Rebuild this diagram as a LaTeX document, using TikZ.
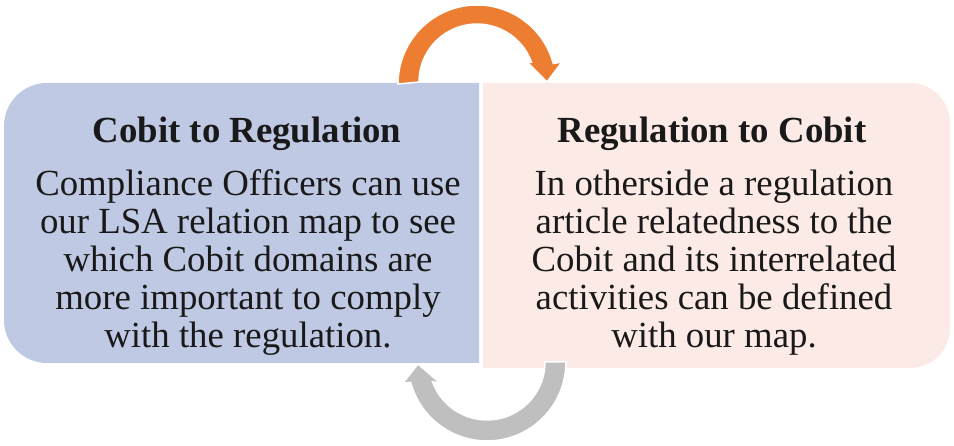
\documentclass[tikz,border=0pt]{standalone}
\usepackage{fontspec}
\setmainfont{Liberation Serif}
\definecolor{boxblue}{HTML}{BFC9E3}
\definecolor{boxpink}{HTML}{FCEAE6}
\definecolor{arroworange}{HTML}{ED7D31}
\definecolor{arrowgray}{HTML}{BFBFBF}
\tikzset{
  titletext/.style={font=\fontsize{36.8}{38}\selectfont\bfseries, text=black!90, inner sep=0pt, anchor=base},
  bodytext/.style={font=\fontsize{36.8}{38}\selectfont, text=black!90, align=center, inner sep=0pt, anchor=base},
  arrowshape/.style={draw=white, line width=1.5pt},
}
\begin{document}
\begin{tikzpicture}[x=1pt,y=1pt]
\useasboundingbox (0,0) rectangle (954,446);
% boxes
\fill[boxblue] (479,83) -- (479,363) -- (47,363) arc[start angle=90,end angle=180,radius=43] -- (4,126) arc[start angle=180,end angle=270,radius=43] -- cycle;
\fill[boxpink] (483,78) -- (483,363) -- (910,363) arc[start angle=90,end angle=0,radius=40] -- (950,118) arc[start angle=0,end angle=-90,radius=40] -- cycle;
% arrows
\filldraw[arrowshape, fill=arroworange] (398,362) arc[start angle=180,end angle=15,radius=79] -- (562,384) -- (547,364) -- (527,384) -- (531.5,383.8) arc[start angle=20,end angle=180,radius=58] -- cycle;
\filldraw[arrowshape, fill=arrowgray] (566,84) arc[start angle=0,end angle=-165,radius=79] -- (403,63) -- (418,82) -- (440,63) -- (432.5,64.2) arc[start angle=-160,end angle=0,radius=58] -- cycle;
% texts
\node[titletext] (t1) at (247,303) {Cobit to Regulation};
\node[bodytext] (b1) at (248,98) {Compliance Officers can use\\our LSA relation map to see\\which Cobit domains are\\more important to comply\\with the regulation.};
\node[titletext] (t2) at (712,303) {Regulation to Cobit};
\node[bodytext] (b2) at (714,98) {In otherside a regulation\\article relatedness to the\\Cobit and its interrelated\\activities can be defined\\with our map.};
\end{tikzpicture}
\end{document}
